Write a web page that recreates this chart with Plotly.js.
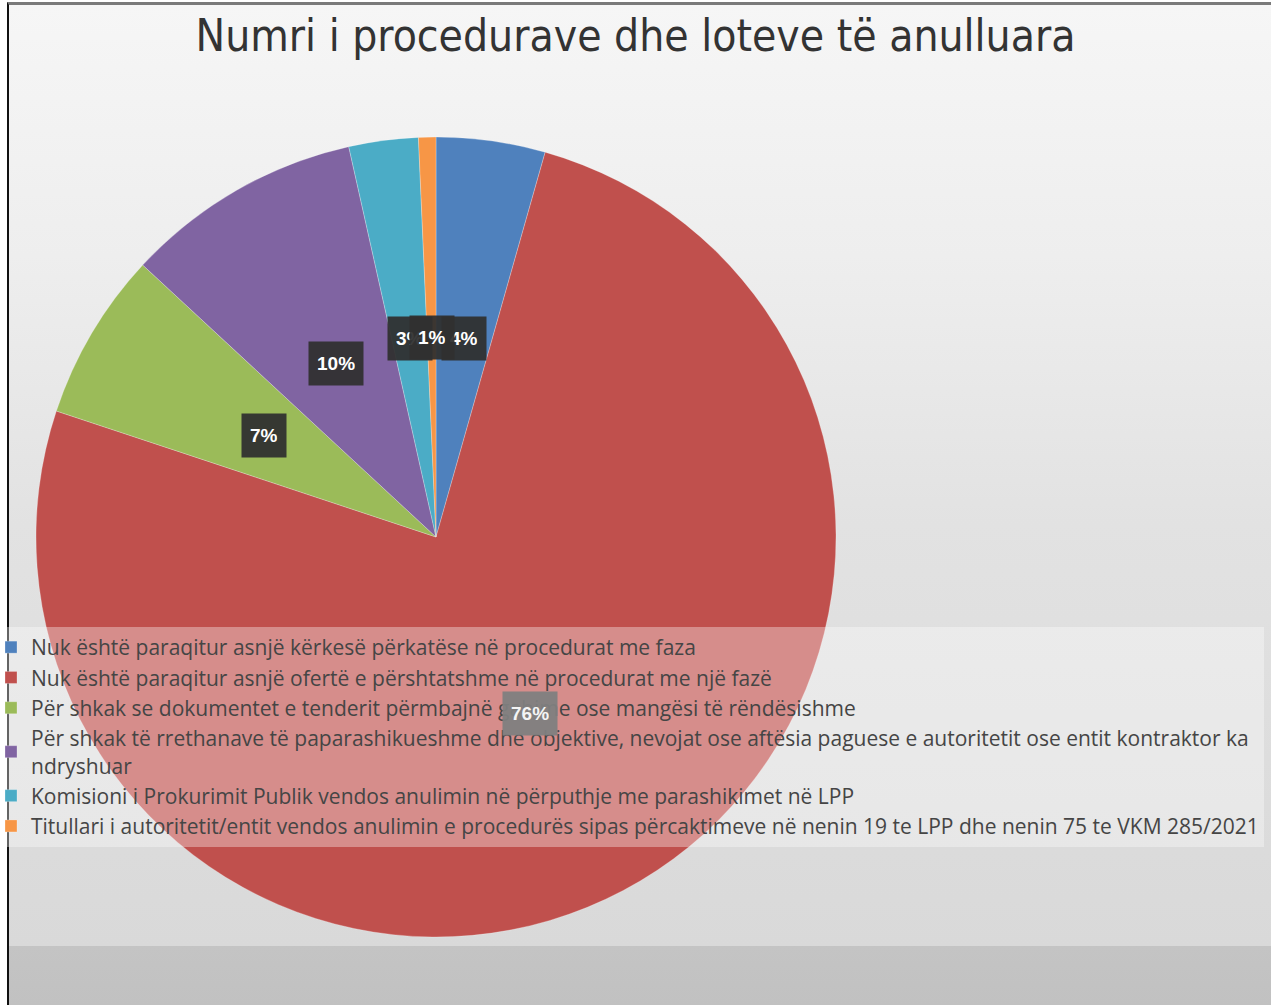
<!DOCTYPE html>
<html>
<head>
<meta charset="utf-8">
<script src="https://cdn.plot.ly/plotly-3.0.1.min.js"></script>
<style>
  html, body { margin: 0; padding: 0; background: #ffffff; overflow: hidden; }
  #wrap { position: relative; width: 1271px; height: 1005px; }
  #bg {
    position: absolute; left: 7px; top: 2px; right: 0; bottom: 0;
    border-left: 2px solid #111111;
    border-top: 3px solid #7a7a7a;
    background: linear-gradient(180deg, #f6f6f6 0px, #eeeeee 250px, #e2e2e2 520px, #d9d9d9 941px, #c4c4c4 941px, #c1c1c1 100%);
  }
  #chart { position: absolute; left: 0; top: 0; width: 1271px; height: 1005px; }
</style>
</head>
<body>
<div id="wrap">
  <div id="bg"></div>
  <div id="chart"></div>
</div>
<script>
// Kategorite (legjenda)
const categories = [
  'Nuk është paraqitur asnjë kërkesë përkatëse në procedurat me faza',
  'Nuk është paraqitur asnjë ofertë e përshtatshme në procedurat me një fazë',
  'Për shkak se dokumentet e tenderit përmbajnë gabime ose mangësi të rëndësishme',
  'Për shkak të rrethanave të paparashikueshme dhe objektive, nevojat ose aftësia paguese e autoritetit ose entit kontraktor ka<br>ndryshuar',
  'Komisioni i Prokurimit Publik vendos anulimin në përputhje me parashikimet në LPP',
  'Titullari i autoritetit/entit vendos anulimin e procedurës sipas përcaktimeve në nenin 19 te LPP dhe nenin 75 te VKM 285/2021'
];

// Vlerat e lexuara nga grafiku (%)
const values = [4.4, 75.7, 6.8, 9.6, 2.8, 0.7];

const colors = ['#4F81BD', '#C0504D', '#9BBB59', '#8064A2', '#4BACC6', '#F79646'];

const W = 1271, H = 1005;
const domX = [36 / W, 836 / W];
const domY = [1 - 937 / H, 1 - 137 / H];

// legend band (paper y), labels under it look washed out
const legTop = 1 - 627 / H;
const legBottom = 1 - 842 / H;

// Label positions on the slice mid-angle, at half the radius
const total = values.reduce((a, b) => a + b, 0);
const cx = (domX[0] + domX[1]) / 2;
const cy = (domY[0] + domY[1]) / 2;
const rx = (domX[1] - domX[0]) / 2;
const ry = (domY[1] - domY[0]) / 2;

let cum = 0;
const labelAnns = values.map(v => {
  let mid = (cum + v / 2) / total * 2 * Math.PI;
  cum += v;
  let y = cy + 0.5 * ry * Math.cos(mid);
  let covered = y < legTop && y > legBottom;
  return {
    xref: 'paper', yref: 'paper',
    x: cx + 0.5 * rx * Math.sin(mid),
    y: y,
    xanchor: 'center', yanchor: 'middle',
    text: '<b>' + Math.round(v / total * 100) + '%</b>',
    showarrow: false,
    height: 27,
    font: { family: 'Liberation Sans, Arial, sans-serif', size: 19, color: covered ? '#f4f4f4' : '#ffffff' },
    bgcolor: covered ? 'rgba(128,128,128,0.95)' : 'rgba(48,48,48,0.94)',
    borderpad: 8
  };
});

let data = [{
  type: 'pie',
  labels: categories,
  values: values,
  sort: false,
  direction: 'clockwise',
  rotation: 0,
  textinfo: 'none',
  hoverinfo: 'none',
  marker: { colors: colors, line: { color: 'rgba(255,255,255,0.5)', width: 0.5 } },
  domain: { x: domX, y: domY }
}];

let layout = {
  width: W,
  height: H,
  margin: { l: 0, r: 0, t: 0, b: 0, autoexpand: false },
  paper_bgcolor: 'rgba(0,0,0,0)',
  plot_bgcolor: 'rgba(0,0,0,0)',
  title: {
    text: 'Numri i procedurave dhe loteve të anulluara',
    x: 0.5, xanchor: 'center',
    y: 1 - 36 / H, yanchor: 'middle',
    yref: 'paper',
    font: { family: 'Liberation Sans Narrow, DejaVu Sans Condensed, sans-serif', size: 44, color: '#333333' }
  },
  showlegend: true,
  legend: {
    x: -9 / W, xanchor: 'left',
    y: legTop, yanchor: 'top',
    bgcolor: 'rgba(255,255,255,0.35)',
    font: { family: 'Open Sans, sans-serif', size: 21, color: '#454545' },
    traceorder: 'normal'
  },
  annotations: labelAnns
};

Plotly.newPlot('chart', data, layout, { displayModeBar: false, staticPlot: true });
</script>
</body>
</html>
